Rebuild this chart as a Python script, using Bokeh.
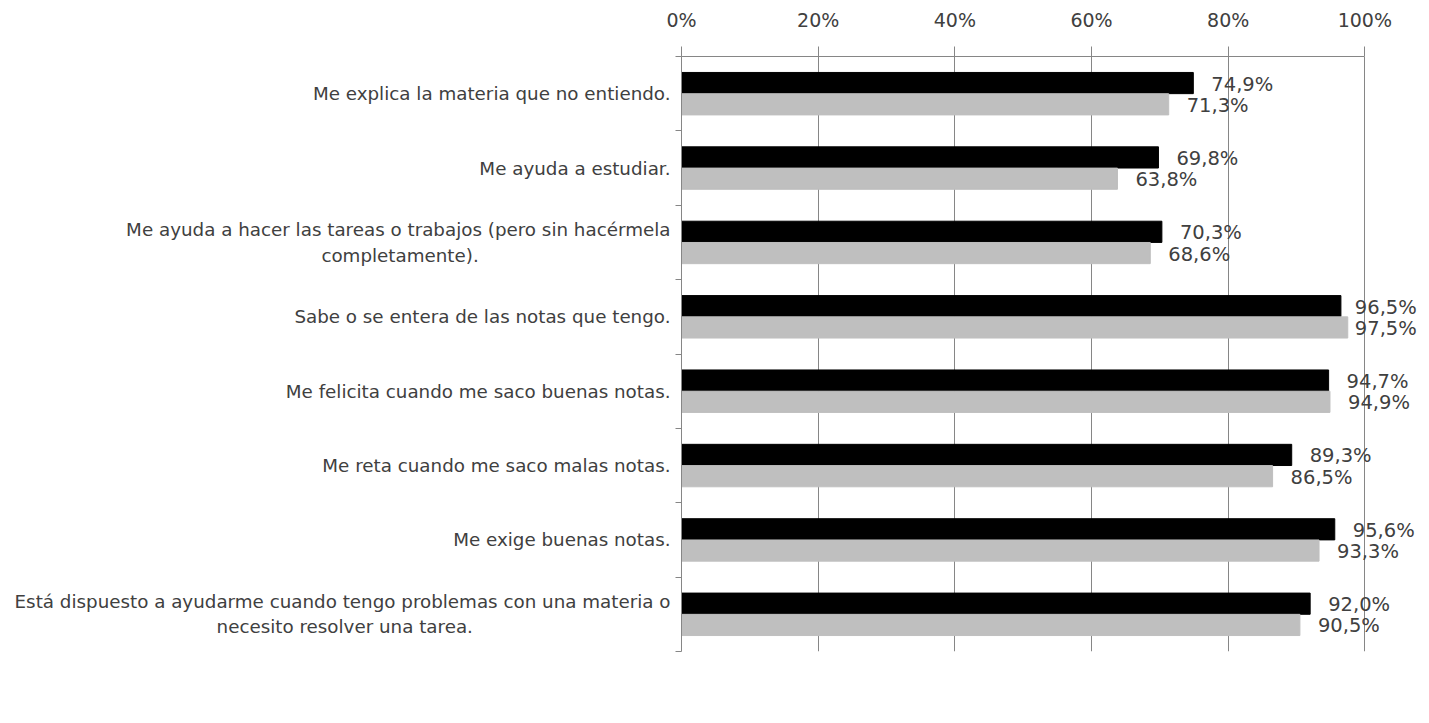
from bokeh.plotting import figure
from bokeh.models import (ColumnDataSource, Range1d, LinearAxis, FixedTicker, Legend, LegendItem, LabelSet)
from bokeh.transform import dodge
from bokeh.core.properties import value
from bokeh.embed import file_html
from bokeh.resources import INLINE

NB = "\u00a0"
categories = [
    "Me explica la materia que no entiendo.",
    "Me ayuda a estudiar.",
    "Me ayuda a hacer las tareas o trabajos (pero sin hacérmela\ncompletamente)." + NB * 33,
    "Sabe o se entera de las notas que tengo.",
    "Me felicita cuando me saco buenas notas.",
    "Me reta cuando me saco malas notas.",
    "Me exige buenas notas.",
    "Está dispuesto a ayudarme cuando tengo problemas con una materia o\nnecesito resolver una tarea." + NB * 34,
]
hombres = [74.9, 69.8, 70.3, 96.5, 94.7, 89.3, 95.6, 92.0]
mujeres = [71.3, 63.8, 68.6, 97.5, 94.9, 86.5, 93.3, 90.5]
x_ticks = [0, 20, 40, 60, 80, 100]
series_names = ["Hombres", "Mujeres"]
colors = ["#000000", "#BFBFBF"]

FONT = "DejaVu Sans"
TXT = "#404040"
GRID = "#868686"

# layout (pixels)
W = 1425
LEFT, TOP = 681, 56
PX100 = 683            # width of 0..100 %
X_END = 108
FRAME_W = round(PX100 * X_END / 100)
RIGHT = W - LEFT - FRAME_W
FRAME_H = 595
BOTTOM = 60
LBL_W = 62             # approx. width of a value label
LBL_LIMIT = 1416       # labels stay left of this pixel
PXU = PX100 / 100

n = len(categories)
pos = [n - i - 0.5 for i in range(n)]   # category slot centres, first at top

def fmt(v):
    return f"{v:.1f}%".replace(".", ",")

def lbl_off(v):
    return min(18, LBL_LIMIT - (LEFT + PXU * v) - LBL_W)

src = ColumnDataSource(dict(
    pos=pos,
    h=hombres, m=mujeres,
    hl=[fmt(v) for v in hombres],
    ml=[fmt(v) for v in mujeres],
    ho=[lbl_off(v) for v in hombres],
    mo=[lbl_off(v) for v in mujeres],
))

p = figure(frame_width=FRAME_W, frame_height=FRAME_H, x_range=Range1d(0, X_END), y_range=Range1d(0, n),
           x_axis_location="above", output_backend="svg", toolbar_location=None,
           min_border_left=LEFT, min_border_right=RIGHT, min_border_top=TOP,
           min_border_bottom=BOTTOM)

# x axis (top)
xa = p.xaxis[0]
xa.ticker = FixedTicker(ticks=x_ticks)
xa.bounds = (0, 100)
xa.major_label_overrides = {t: f"{t}%" for t in x_ticks}
xa.major_label_text_font = FONT
xa.major_label_text_font_size = "19px"
xa.major_label_text_color = TXT
xa.axis_line_color = GRID
xa.major_tick_line_color = GRID
xa.major_tick_out = 10
xa.major_tick_in = 0
xa.minor_tick_line_color = None
xa.major_label_standoff = 16

# left axis: boundary ticks only
ya = p.yaxis[0]
ya.ticker = FixedTicker(ticks=list(range(n + 1)))
ya.major_label_text_font_size = "0px"
ya.major_label_standoff = 0
ya.axis_line_color = GRID
ya.major_tick_line_color = GRID
ya.major_tick_out = 6
ya.major_tick_in = 0
ya.minor_tick_line_color = None

# category labels
ca = LinearAxis(ticker=FixedTicker(ticks=pos))
ca.major_label_overrides = {pv: c for pv, c in zip(pos, categories)}
ca.axis_line_color = None
ca.major_tick_line_color = None
ca.minor_tick_line_color = None
ca.major_label_text_font = FONT
ca.major_label_text_font_size = "18.3px"
ca.major_label_text_color = TXT
ca.major_label_standoff = -1
p.add_layout(ca, "left")

p.xgrid.ticker = FixedTicker(ticks=x_ticks)
p.xgrid.grid_line_color = GRID
p.ygrid.grid_line_color = None
p.outline_line_color = None

off = 0.143
hgt = 0.285
rh = p.hbar(y=dodge("pos", off), right="h", left=0, height=hgt, source=src,
            fill_color=colors[0], line_color=colors[0])
rm = p.hbar(y=dodge("pos", -off), right="m", left=0, height=hgt, source=src,
            fill_color=colors[1], line_color=colors[1])

for col, lab, oc, o in (("h", "hl", "ho", off), ("m", "ml", "mo", -off)):
    ls = LabelSet(x=col, y=dodge("pos", o), text=lab, source=src,
                  x_offset=oc, y_offset=-1, text_align="left", text_baseline="middle",
                  text_font=value(FONT), text_font_size="19.5px", text_color=TXT)
    p.add_layout(ls)

legend = Legend(items=[LegendItem(label=series_names[0], renderers=[rh]),
                       LegendItem(label=series_names[1], renderers=[rm])],
                orientation="horizontal", location=(-99, 0),
                glyph_width=16, glyph_height=15, label_standoff=8, spacing=26,
                padding=0, margin=18, border_line_color=None, background_fill_alpha=0,
                label_text_font=FONT, label_text_font_size="21px", label_text_color=TXT)
p.add_layout(legend, "below")

open("out.html", "w").write(file_html(p, INLINE))
